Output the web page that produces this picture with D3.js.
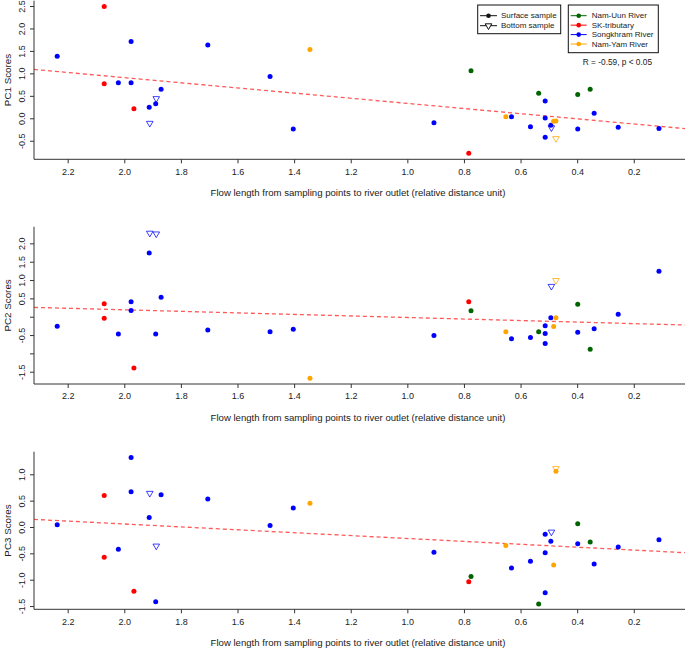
<!DOCTYPE html>
<html>
<head>
<meta charset="utf-8">
<script src="https://cdn.jsdelivr.net/npm/d3@7"></script>
<style>
  body { margin: 0; background: #fff; }
  svg { display: block; font-family: "Liberation Sans", Arial, sans-serif; }
</style>
</head>
<body>
<svg id="chart" width="685" height="650"></svg>
<script>
// ---------------- DATA ----------------
const rivers = ["Nam-Uun River", "SK-tributary", "Songkhram River", "Nam-Yam River"];
const riverColors = ["#006400", "#ff0000", "#0000ff", "#ffa500"];
const sampleTypes = ["Surface sample", "Bottom sample"];

// flow length (relative distance unit) for each sample
const flowLength = [2.237, 2.071, 2.071, 2.021, 1.976, 1.976, 1.966, 1.912, 1.910, 1.889,
                    1.887, 1.870, 1.705, 1.485, 1.403, 1.344, 0.906, 0.775, 0.783, 0.652,
                    0.632, 0.565, 0.536, 0.513, 0.513, 0.513, 0.493, 0.491, 0.483, 0.475,
                    0.475, 0.398, 0.398, 0.354, 0.340, 0.255, 0.111];
// river index (into rivers)
const riverIdx   = [2, 1, 1, 2, 2, 2, 1, 2, 2, 2,
                    2, 2, 2, 2, 2, 3, 2, 0, 1, 3,
                    2, 2, 0, 2, 2, 2, 2, 2, 3, 3,
                    3, 0, 2, 0, 2, 2, 2];
// sample type index (0 surface, 1 bottom)
const depthIdx   = [0, 0, 0, 0, 0, 0, 0, 0, 1, 0,
                    1, 0, 0, 0, 0, 0, 0, 0, 0, 0,
                    0, 0, 0, 0, 0, 0, 0, 1, 0, 0,
                    1, 0, 0, 0, 0, 0, 0];
const pc1 = [1.38, 2.49, 0.77, 0.79, 1.71, 0.79, 0.21, 0.245, -0.11, 0.325,
             0.44, 0.645, 1.63, 0.93, -0.24, 1.53, -0.10, 1.06, -0.78, 0.036,
             0.036, -0.19, 0.56, 0.385, 0.007, -0.42, -0.156, -0.21, -0.067, -0.06,
             -0.45, 0.53, -0.24, 0.645, 0.11, -0.20, -0.23];
const pc2 = [-0.26, 0.355, -0.045, -0.47, 0.41, 0.17, -1.40, 1.74, 2.28, -0.47,
             2.26, 0.53, -0.36, -0.41, -0.345, -1.68, -0.51, 0.16, 0.41, -0.41,
             -0.60, -0.57, -0.41, -0.245, -0.455, -0.73, -0.03, 0.83, -0.27, -0.03,
             0.99, 0.34, -0.425, -0.89, -0.33, 0.07, 1.24];
const pc3 = [0.044, 0.60, -0.575, -0.42, 1.32, 0.67, -1.22, 0.18, 0.64, -1.42,
             -0.36, 0.61, 0.53, 0.03, 0.36, 0.45, -0.48, -0.94, -1.04, -0.35,
             -0.78, -0.65, -1.46, -0.14, -0.49, -1.25, -0.27, -0.095, -0.72, 1.06,
             1.11, 0.06, -0.32, -0.285, -0.70, -0.38, -0.24];

// fitted trend lines (intercept, slope)
const fitIntercept = [-0.241, -0.23, -0.493];
const fitSlope     = [0.573, 0.209, 0.275];

const xTicks = [2.2, 2.0, 1.8, 1.6, 1.4, 1.2, 1.0, 0.8, 0.6, 0.4, 0.2];
const yTicks1 = [-0.5, 0.0, 0.5, 1.0, 1.5, 2.0, 2.5];
const yTicks2 = [-1.5, -1.0, -0.5, 0.0, 0.5, 1.0, 1.5, 2.0];
const yLabels2 = ["-1.5", "", "-0.5", "", "0.5", "1.0", "1.5", "2.0"];
const yTicks3 = [-1.5, -1.0, -0.5, 0.0, 0.5, 1.0];
const xTitle = "Flow length from sampling points to river outlet (relative distance unit)";
const statText = "R = -0.59, p < 0.05";

// ---------------- LAYOUT ----------------
const svg = d3.select("#chart");
const left = 34, right = 685;
const x = d3.scaleLinear().domain([2.319, 0.019]).range([left, right]);

const panels = [
  { vals: pc1, title: "PC1 Scores", top: 0.7, bottom: 159.3, domain: [-0.913, 2.618], ticks: yTicks1, labels: yTicks1.map(d => d.toFixed(1)), fit: 0 },
  { vals: pc2, title: "PC2 Scores", top: 226.8, bottom: 384, domain: [-1.835, 2.452], ticks: yTicks2, labels: yLabels2, fit: 1 },
  { vals: pc3, title: "PC3 Scores", top: 451.7, bottom: 609.3, domain: [-1.562, 1.429], ticks: yTicks3, labels: yTicks3.map(d => d.toFixed(1)), fit: 2 }
];

const axisColor = "#333";
const textColor = "#222";
const triPath = "M-3.3,-1.9L3.3,-1.9L0,3.8Z";

panels.forEach(p => {
  const y = d3.scaleLinear().domain(p.domain).range([p.bottom, p.top]);
  const g = svg.append("g");

  // trend line
  const xd = x.domain();
  g.append("line")
    .attr("x1", x(xd[0])).attr("y1", y(fitIntercept[p.fit] + fitSlope[p.fit] * xd[0]))
    .attr("x2", x(xd[1])).attr("y2", y(fitIntercept[p.fit] + fitSlope[p.fit] * xd[1]))
    .attr("stroke", "#ff3030").attr("stroke-opacity", 0.8)
    .attr("stroke-width", 1.3).attr("stroke-dasharray", "4,3");

  // points
  const idx = d3.range(flowLength.length);
  g.selectAll("circle.pt").data(idx.filter(i => depthIdx[i] === 0)).join("circle")
    .attr("class", "pt")
    .attr("cx", i => x(flowLength[i])).attr("cy", i => y(p.vals[i]))
    .attr("r", 2.5).attr("fill", i => riverColors[riverIdx[i]]);
  g.selectAll("path.tri").data(idx.filter(i => depthIdx[i] === 1)).join("path")
    .attr("class", "tri")
    .attr("transform", i => `translate(${x(flowLength[i])},${y(p.vals[i])})`)
    .attr("d", triPath).attr("fill", "none")
    .attr("stroke", i => riverColors[riverIdx[i]]).attr("stroke-width", 1).attr("stroke-opacity", 0.75);

  // L-shaped frame
  g.append("path")
    .attr("d", `M${left},${p.top}V${p.bottom}H${right}`)
    .attr("fill", "none").attr("stroke", axisColor).attr("stroke-width", 1);

  // x axis
  const xa = g.append("g").attr("transform", `translate(0,${p.bottom})`)
    .call(d3.axisBottom(x).tickValues(xTicks).tickSize(4).tickPadding(5).tickFormat(d3.format(".1f")));
  xa.select(".domain").remove();
  xa.selectAll("line").attr("stroke", axisColor);
  xa.selectAll("text").attr("font-size", "9px").attr("fill", textColor).attr("font-family", null);

  // y axis
  const ya = g.append("g").attr("transform", `translate(${left},0)`)
    .call(d3.axisLeft(y).tickValues(p.ticks).tickSize(4).tickFormat((d, i) => p.labels[i]));
  ya.select(".domain").remove();
  ya.selectAll("line").attr("stroke", axisColor);
  ya.selectAll("text")
    .attr("x", 0).attr("dy", null).attr("y", -12.5)
    .attr("transform", "rotate(-90)")
    .attr("text-anchor", "middle").attr("dominant-baseline", "central")
    .attr("font-size", "9px").attr("fill", textColor).attr("font-family", null);

  // axis titles
  g.append("text").attr("x", 358).attr("y", p.bottom + 33.4)
    .attr("text-anchor", "middle").attr("dominant-baseline", "central")
    .attr("font-size", "9.6px").attr("fill", textColor).text(xTitle);
  g.append("text")
    .attr("transform", `translate(7,${(p.top + p.bottom) / 2}) rotate(-90)`)
    .attr("text-anchor", "middle").attr("dominant-baseline", "central")
    .attr("font-size", "9.8px").attr("fill", textColor).text(p.title);
});

// ---------------- LEGENDS ----------------
const lg1 = svg.append("g");
lg1.append("rect").attr("x", 477.7).attr("y", 5).attr("width", 83).attr("height", 28.7)
  .attr("fill", "#fff").attr("stroke", "#111").attr("stroke-width", 1);
sampleTypes.forEach((s, i) => {
  const yy = 15.7 + i * 10;
  lg1.append("line").attr("x1", 480).attr("x2", 497).attr("y1", yy).attr("y2", yy).attr("stroke", "#111");
  if (i === 0) lg1.append("circle").attr("cx", 488.5).attr("cy", yy).attr("r", 2.3).attr("fill", "#111");
  else lg1.append("path").attr("transform", `translate(488.5,${yy})`).attr("d", triPath).attr("fill", "#fff").attr("stroke", "#111");
  lg1.append("text").attr("x", 501).attr("y", yy).attr("dominant-baseline", "central")
    .attr("font-size", "8px").attr("fill", textColor).text(s);
});

const lg2 = svg.append("g");
lg2.append("rect").attr("x", 568.3).attr("y", 5).attr("width", 90).attr("height", 47.7)
  .attr("fill", "#fff").attr("stroke", "#111").attr("stroke-width", 1);
rivers.forEach((r, i) => {
  const yy = 15.7 + i * 9.45;
  lg2.append("line").attr("x1", 570.7).attr("x2", 586.7).attr("y1", yy).attr("y2", yy).attr("stroke", riverColors[i]);
  lg2.append("circle").attr("cx", 578.7).attr("cy", yy).attr("r", 2.3).attr("fill", riverColors[i]);
  lg2.append("text").attr("x", 591.7).attr("y", yy).attr("dominant-baseline", "central")
    .attr("font-size", "8px").attr("fill", textColor).text(r);
});

svg.append("text").attr("x", 652).attr("y", 62).attr("text-anchor", "end")
  .attr("dominant-baseline", "central").attr("font-size", "8.3px").attr("fill", textColor).text(statText);
</script>
</body>
</html>
